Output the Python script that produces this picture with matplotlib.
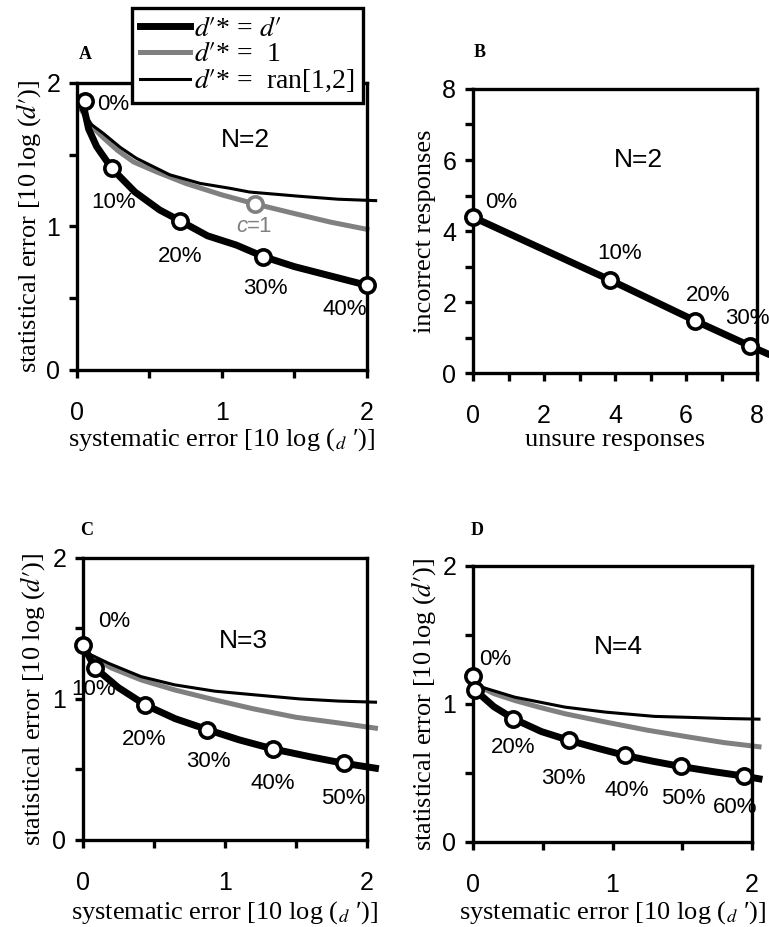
import matplotlib
matplotlib.use("Agg")
import matplotlib.pyplot as plt

plt.rcParams['font.family'] = ['Liberation Sans', 'DejaVu Sans']
plt.rcParams['mathtext.fontset'] = 'stix'
SERIF = ['Liberation Serif', 'DejaVu Serif']
GRAY = '#808080'

# ---- panel A (N=2) ----
a_black_x = [0.045, 0.08, 0.136, 0.24, 0.40, 0.57, 0.71, 0.90, 1.10, 1.285, 1.50, 1.75, 2.0]
a_black_y = [1.84, 1.68, 1.556, 1.405, 1.24, 1.115, 1.04, 0.935, 0.87, 0.79, 0.72, 0.655, 0.59]
a_gray_x = [0.032, 0.10, 0.18, 0.28, 0.39, 0.55, 0.75, 1.0, 1.228, 1.5, 1.75, 2.0]
a_gray_y = [1.81, 1.70, 1.62, 1.53, 1.45, 1.38, 1.30, 1.22, 1.157, 1.09, 1.03, 0.98]
a_thin_x = [0.032, 0.10, 0.18, 0.30, 0.41, 0.64, 0.85, 1.055, 1.19, 1.54, 1.80, 2.06]
a_thin_y = [1.81, 1.71, 1.65, 1.55, 1.475, 1.36, 1.30, 1.266, 1.24, 1.21, 1.19, 1.18]
a_mark_x = [0.055, 0.24, 0.71, 1.285, 2.0]
a_mark_y = [1.875, 1.405, 1.04, 0.79, 0.59]
a_labels = ['0%', '10%', '20%', '30%', '40%']
a_lab_x = [0.25, 0.25, 0.71, 1.30, 1.85]
a_lab_y = [1.85, 1.17, 0.79, 0.57, 0.42]
a_c1 = (1.228, 1.157)

# ---- panel B (N=2) ----
b_unsure = [0.0, 3.86, 6.26, 7.81, 8.28]
b_incorrect = [4.39, 2.62, 1.47, 0.76, 0.55]
b_mark_n = 4
b_labels = ['0%', '10%', '20%', '30%']
b_lab_x = [0.8, 4.14, 6.63, 7.72]
b_lab_y = [4.8, 3.37, 2.19, 1.53]

# ---- panel C (N=3) ----
c_black_x = [0.0, 0.085, 0.25, 0.44, 0.65, 0.875, 1.1, 1.336, 1.6, 1.836, 2.06]
c_black_y = [1.383, 1.22, 1.08, 0.957, 0.86, 0.783, 0.71, 0.646, 0.59, 0.544, 0.509]
c_gray_x = [0.01, 0.2, 0.41, 0.646, 0.93, 1.2, 1.5, 1.8, 2.06]
c_gray_y = [1.33, 1.22, 1.135, 1.064, 0.993, 0.93, 0.87, 0.83, 0.793]
c_thin_x = [0.01, 0.18, 0.41, 0.646, 0.93, 1.2, 1.53, 1.8, 2.06]
c_thin_y = [1.335, 1.253, 1.158, 1.10, 1.055, 1.03, 1.0, 0.985, 0.977]
c_mark_x = [0.0, 0.085, 0.44, 0.875, 1.336, 1.836]
c_mark_y = [1.383, 1.22, 0.957, 0.783, 0.646, 0.544]
c_labels = ['0%', '10%', '20%', '30%', '40%', '50%']
c_lab_x = [0.22, 0.075, 0.43, 0.885, 1.34, 1.836]
c_lab_y = [1.55, 1.07, 0.71, 0.556, 0.40, 0.296]

# ---- panel D (N=4) ----
d_black_x = [0.0, 0.015, 0.15, 0.29, 0.49, 0.69, 0.89, 1.09, 1.29, 1.49, 1.72, 1.945, 2.05]
d_black_y = [1.206, 1.10, 0.98, 0.893, 0.80, 0.736, 0.68, 0.627, 0.585, 0.547, 0.51, 0.477, 0.458]
d_gray_x = [0.015, 0.15, 0.30, 0.48, 0.66, 0.95, 1.25, 1.55, 1.8, 2.05]
d_gray_y = [1.14, 1.075, 1.025, 0.975, 0.929, 0.869, 0.81, 0.76, 0.72, 0.69]
d_thin_x = [0.015, 0.065, 0.30, 0.66, 0.95, 1.3, 1.51, 1.8, 2.05]
d_thin_y = [1.15, 1.121, 1.049, 0.977, 0.941, 0.91, 0.904, 0.895, 0.89]
d_mark_x = [0.0, 0.015, 0.29, 0.69, 1.09, 1.49, 1.945]
d_mark_y = [1.206, 1.10, 0.893, 0.736, 0.627, 0.547, 0.477]
d_labels = ['0%', '20%', '30%', '40%', '50%', '60%']
d_lab_x = [0.16, 0.29, 0.65, 1.10, 1.51, 1.88]
d_lab_y = [1.325, 0.687, 0.458, 0.373, 0.313, 0.253]

ylab = r"statistical error [10 log ($d′$)]"
xlab = r"systematic error [10 log (${}_{d}$ ′)]"

fig = plt.figure(figsize=(7.69, 9.27), dpi=100)
axA = fig.add_axes([0.1001, 0.6009, 0.3771, 0.3096])
axB = fig.add_axes([0.6151, 0.5976, 0.3693, 0.3064])
axC = fig.add_axes([0.1079, 0.0939, 0.3693, 0.3042])
axD = fig.add_axes([0.6151, 0.0917, 0.3628, 0.2978])


def style(ax, lim, major, minor):
    ax.set_xlim(0, lim)
    ax.set_ylim(0, lim)
    ax.set_xticks(major)
    ax.set_xticks(minor, minor=True)
    ax.set_yticks(major)
    ax.set_yticks(minor, minor=True)
    for s in ax.spines.values():
        s.set_linewidth(2.4)
    ax.tick_params(which='both', direction='out', length=6, width=2.4)
    ax.tick_params(axis='x', which='major', pad=16, labelsize=18)
    ax.tick_params(axis='y', which='major', pad=6, labelsize=18)


def curves(ax, bx, by, gx, gy, tx, ty, mx, my):
    ax.plot(tx, ty, color='black', lw=2.2, clip_on=False, zorder=3)
    ax.plot(gx, gy, color=GRAY, lw=3.6, clip_on=False, zorder=2)
    ax.plot(bx, by, color='black', lw=5, clip_on=False, zorder=4)
    ax.plot(mx, my, 'o', ms=11, mfc='white', mec='black', mew=2.6, clip_on=False, zorder=5)


def labels(ax, xtext, ytext, xc, yc):
    ax.set_xlabel(xtext, family=SERIF, fontsize=19, va='center')
    ax.set_ylabel(ytext, family=SERIF, fontsize=19, va='center')
    ax.xaxis.set_label_coords(0.5, xc)
    ax.yaxis.set_label_coords(yc, 0.5)


for ax in (axA, axC, axD):
    style(ax, 2, [0, 1, 2], [0.5, 1.5])
style(axB, 8, [0, 2, 4, 6, 8], [1, 3, 5, 7])

# A
l_thin, = axA.plot(a_thin_x, a_thin_y, color='black', lw=2.2, clip_on=False, zorder=3)
l_gray, = axA.plot(a_gray_x, a_gray_y, color=GRAY, lw=3.6, clip_on=False, zorder=2)
l_black, = axA.plot(a_black_x, a_black_y, color='black', lw=5, clip_on=False, zorder=4)
axA.plot(a_mark_x, a_mark_y, 'o', ms=11, mfc='white', mec='black', mew=2.6, clip_on=False, zorder=5)
axA.plot([a_c1[0]], [a_c1[1]], 'o', ms=11, mfc='white', mec=GRAY, mew=2.6, zorder=5)
for t, x, y in zip(a_labels, a_lab_x, a_lab_y):
    axA.text(x, y, t, fontsize=16, ha='center', va='center', zorder=6)
axA.text(1.172, 1.0, 'c', fontsize=16, style='italic', ha='right', va='center', color=GRAY)
axA.text(1.172, 1.0, '=1', fontsize=16, ha='left', va='center', color=GRAY)
axA.text(1.16, 1.60, 'N=2', fontsize=19, ha='center', va='center')

# B
axB.plot(b_unsure, b_incorrect, color='black', lw=5, clip_on=False, zorder=4)
axB.plot(b_unsure[:b_mark_n], b_incorrect[:b_mark_n], 'o', ms=11, mfc='white', mec='black',
         mew=2.6, clip_on=False, zorder=5)
for t, x, y in zip(b_labels, b_lab_x, b_lab_y):
    axB.text(x, y, t, fontsize=16, ha='center', va='center', zorder=6)
axB.text(4.66, 6.0, 'N=2', fontsize=19, ha='center', va='center')

# C
curves(axC, c_black_x, c_black_y, c_gray_x, c_gray_y, c_thin_x, c_thin_y, c_mark_x, c_mark_y)
for t, x, y in zip(c_labels, c_lab_x, c_lab_y):
    axC.text(x, y, t, fontsize=16, ha='center', va='center', zorder=6)
axC.text(1.13, 1.41, 'N=3', fontsize=19, ha='center', va='center')

# D
curves(axD, d_black_x, d_black_y, d_gray_x, d_gray_y, d_thin_x, d_thin_y, d_mark_x, d_mark_y)
for t, x, y in zip(d_labels, d_lab_x, d_lab_y):
    axD.text(x, y, t, fontsize=16, ha='center', va='center', zorder=6)
axD.text(1.04, 1.41, 'N=4', fontsize=19, ha='center', va='center')

# axis labels (centres)
labels(axA, xlab, ylab, -0.244, -0.166)
labels(axB, 'unsure responses', 'incorrect responses', -0.236, -0.169)
labels(axC, xlab, ylab, -0.258, -0.178)
labels(axD, xlab, ylab, -0.256, -0.177)

# panel letters
for t, x, y in [('A', 0.1105, 0.9407), ('B', 0.624, 0.943), ('C', 0.112, 0.428), ('D', 0.620, 0.428)]:
    fig.text(x, y, t, family=SERIF, fontweight='bold', fontsize=13, ha='center', va='center')

leg = fig.legend([l_black, l_gray, l_thin],
                 [r"$d′$* = $d′$", r"$d′$* =  1", r"$d′$* =  ran[1,2]"],
                 loc='upper left', bbox_to_anchor=(131.7 / 769, 1 - 8 / 927),
                 borderaxespad=0, frameon=True, fancybox=False, framealpha=1,
                 handlelength=1.8, handletextpad=0.15, labelspacing=0.0, borderpad=0.3,
                 prop={'family': SERIF, 'size': 20})
leg.get_frame().set_edgecolor('black')
leg.get_frame().set_linewidth(2.4)
leg.set_zorder(10)

fig.savefig('out.png', dpi=100)
